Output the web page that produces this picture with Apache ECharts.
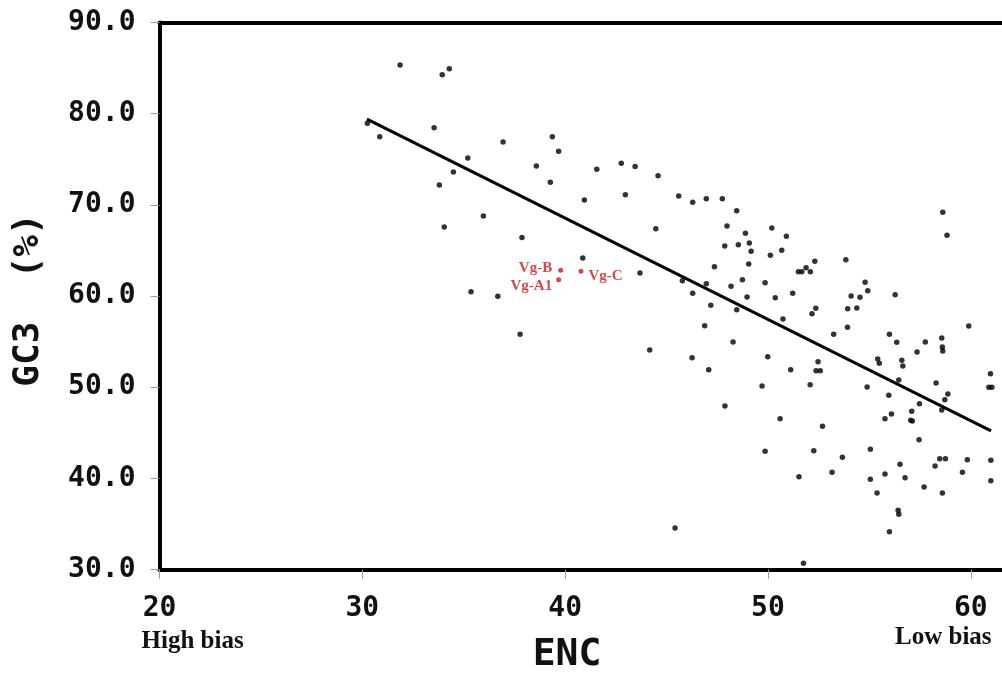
<!DOCTYPE html>
<html>
<head>
<meta charset="utf-8">
<script src="https://cdn.jsdelivr.net/npm/echarts@6/dist/echarts.min.js"></script>
<style>
html,body{margin:0;padding:0;background:#fff;}
#chart{width:1002px;height:673px;}
</style>
</head>
<body>
<div id="chart"></div>
<script>
// ENC (x) values of the gene points
var encValues = [
31.86,33.94,34.29,30.25,30.86,33.54,36.94,39.37,39.68,35.20,
34.49,38.58,33.80,39.27,40.95,35.97,34.04,37.87,44.47,40.87,
43.69,35.36,36.68,37.78,44.17,41.56,42.77,43.45,44.58,42.97,
45.60,46.29,46.96,47.75,48.46,47.98,48.89,50.19,50.91,49.08,
47.87,48.54,49.17,50.68,50.12,49.05,47.36,51.50,45.78,46.96,
48.74,48.18,49.86,46.29,48.97,50.36,51.22,47.18,48.46,50.74,
46.88,48.28,58.62,58.83,52.31,53.84,51.67,51.88,52.09,54.79,
54.92,54.10,54.54,56.27,52.36,52.17,53.93,54.38,59.90,53.92,
53.24,55.99,56.35,57.76,58.57,58.60,58.62,57.35,55.41,55.49,
56.60,56.65,52.47,52.37,52.58,51.12,60.97,56.45,46.26,49.99,
47.08,49.71,52.08,47.88,50.60,52.69,49.86,52.26,53.16,51.53,
45.42,51.75,54.89,58.29,60.89,61.04,55.96,58.87,58.72,57.47,
58.57,57.09,56.09,55.77,57.04,57.12,57.45,55.05,53.67,58.47,
58.75,59.83,60.99,56.51,58.24,59.59,55.77,55.05,56.76,60.99,
57.70,55.38,58.60,56.42,56.45,55.99
];
// GC3 (%) values of the gene points
var gc3Values = [
85.34,84.27,84.93,78.94,77.47,78.46,76.89,77.47,75.87,75.14,
73.60,74.26,72.18,72.47,70.53,68.78,67.57,66.42,67.38,64.17,
62.52,60.47,59.97,55.80,54.08,73.90,74.56,74.21,73.20,71.11,
70.97,70.28,70.67,70.67,69.36,67.68,66.88,67.46,66.55,65.81,
65.49,65.63,64.90,65.01,64.47,63.51,63.21,62.67,61.68,61.35,
61.79,61.06,61.46,60.30,59.89,59.81,60.30,58.98,58.50,57.48,
56.74,54.96,69.18,66.66,63.81,63.98,62.67,63.11,62.67,61.50,
60.58,60.00,59.86,60.14,58.65,58.06,58.61,58.68,56.71,56.57,
55.80,55.80,54.92,54.96,55.39,54.41,53.97,53.86,53.09,52.62,
52.95,52.32,52.79,51.81,51.81,51.92,51.48,50.79,53.23,53.34,
51.92,50.13,50.27,47.94,46.54,45.71,42.97,43.03,40.66,40.18,
34.55,30.68,50.02,50.46,49.99,49.99,49.11,49.25,48.63,48.19,
47.50,47.35,47.06,46.54,46.37,46.29,44.24,43.19,42.31,42.16,
42.16,42.05,41.98,41.54,41.35,40.66,40.48,39.90,40.07,39.74,
39.05,38.39,38.39,36.50,36.06,34.15
];
// highlighted (red) genes
var highlightNames = ['Vg-B', 'Vg-A1', 'Vg-C'];
var highlightEnc = [39.78, 39.68, 40.78];
var highlightGc3 = [62.82, 61.79, 62.71];
// regression line end points
var trendEnc = [30.23, 61.0];
var trendGc3 = [79.4, 45.2];
// axis ranges (x range is cut at the right edge of the picture)
var encMin = 20, encMax = 61.54, encStep = 10;
var gc3Min = 30, gc3Max = 90, gc3Step = 10;

var monoFont = '"DejaVu Sans Mono", monospace';
var serifFont = '"Liberation Serif", "Times New Roman", serif';

var points = encValues.map(function (x, i) { return [x, gc3Values[i]]; });
var labelPos = {
  'Vg-B':  { position: 'left',  offset: [-1, -2] },
  'Vg-A1': { position: 'left',  offset: [1, 6] },
  'Vg-C':  { position: 'right', offset: [0, 5] }
};
var highlights = highlightNames.map(function (n, i) {
  var p = labelPos[n];
  return {
    name: n,
    value: [highlightEnc[i], highlightGc3[i]],
    label: { show: true, position: p.position, offset: p.offset, formatter: n }
  };
});
var trend = trendEnc.map(function (x, i) { return [x, trendGc3[i]]; });

function isStep(v, step) { return Math.abs(v / step - Math.round(v / step)) < 1e-6; }

var chart = echarts.init(document.getElementById('chart'), null, { renderer: 'canvas' });
chart.setOption({
  backgroundColor: '#fff',
  animation: false,
  grid: { left: 159.5, top: 22.5, bottom: 103.5, right: 0, show: false },
  xAxis: [
    {
      type: 'value', min: encMin, max: encMax, interval: encStep, position: 'bottom',
      axisLine: { show: true, lineStyle: { color: '#000', width: 4 } },
      axisTick: { show: true, length: 9, lineStyle: { color: '#999', width: 1 },
        customValues: [20, 30, 40, 50, 60] },
      splitLine: { show: false },
      axisLabel: {
        margin: 25, color: '#111', fontFamily: monoFont, fontWeight: 'bold', fontSize: 28,
        showMaxLabel: false,
        formatter: function (v) { return isStep(v, encStep) ? String(v) : ''; }
      }
    },
    {
      type: 'value', min: encMin, max: encMax, interval: encStep, position: 'top',
      axisLine: { show: true, onZero: false, lineStyle: { color: '#000', width: 4 } },
      axisTick: { show: false }, axisLabel: { show: false }, splitLine: { show: false }
    }
  ],
  yAxis: {
    type: 'value', min: gc3Min, max: gc3Max, interval: gc3Step,
    axisLine: { show: true, lineStyle: { color: '#000', width: 4 } },
    axisTick: { show: true, length: 9, lineStyle: { color: '#999', width: 1 } },
    splitLine: { show: false },
    axisLabel: {
      margin: 24, color: '#111', fontFamily: monoFont, fontWeight: 'bold', fontSize: 28,
      formatter: function (v) { return v.toFixed(1); }
    }
  },
  series: [
    {
      type: 'line', data: trend, symbol: 'none', z: 2,
      lineStyle: { color: '#000', width: 3 }
    },
    {
      type: 'scatter', data: points, symbol: 'circle', symbolSize: 5.5, z: 3,
      itemStyle: { color: '#000' }
    },
    {
      type: 'scatter', data: highlights, symbol: 'circle', symbolSize: 5, z: 4,
      itemStyle: { color: '#d01818' },
      label: {
        color: '#d01818', fontFamily: serifFont, fontWeight: 'bold', fontSize: 15, distance: 5
      }
    }
  ],
  graphic: [
    {
      type: 'text', x: 29, y: 300, rotation: Math.PI / 2,
      style: {
        text: 'GC3  (%)', fill: '#111', font: 'bold 36px "DejaVu Sans Mono", monospace',
        align: 'center', verticalAlign: 'middle'
      }
    },
    {
      type: 'text', x: 567, y: 655,
      style: {
        text: 'ENC', fill: '#111', font: 'bold 38px "DejaVu Sans Mono", monospace',
        align: 'center', verticalAlign: 'middle'
      }
    },
    {
      type: 'text', x: 141.5, y: 642,
      style: {
        text: 'High bias', fill: '#111', font: 'bold 25px "Liberation Serif", serif',
        align: 'left', verticalAlign: 'middle'
      }
    },
    {
      type: 'text', x: 895, y: 638,
      style: {
        text: 'Low bias', fill: '#111', font: 'bold 25px "Liberation Serif", serif',
        align: 'left', verticalAlign: 'middle'
      }
    }
  ]
});
</script>
</body>
</html>
